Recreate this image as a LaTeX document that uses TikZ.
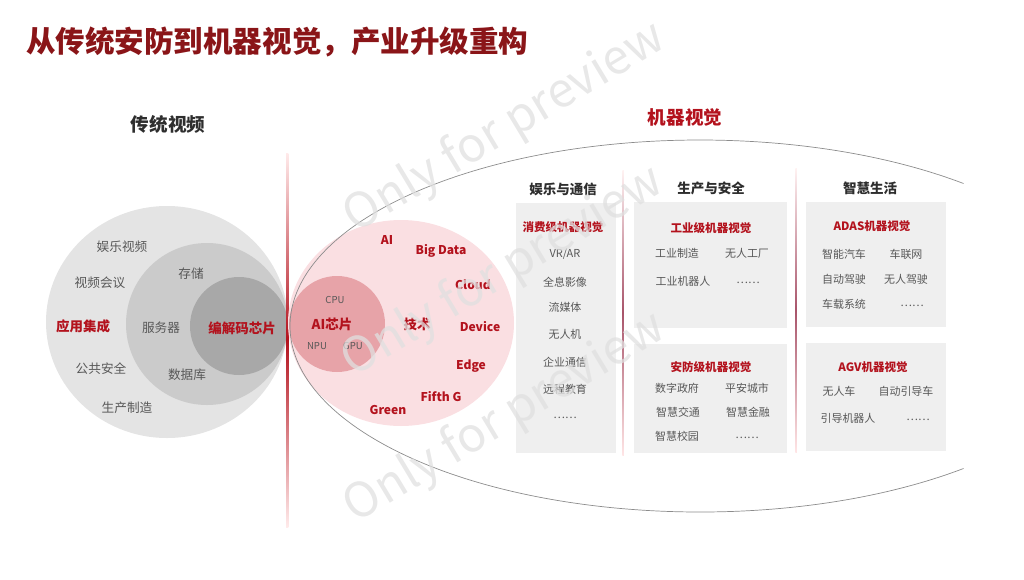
\documentclass[tikz,border=0pt]{standalone}
\usepackage{fontspec}
\setmainfont{Noto Sans CJK SC}
\usepackage{xcolor}
\usepackage{tikz}
\definecolor{tred}{HTML}{8A1518}
\definecolor{cred}{HTML}{B3121D}
\definecolor{lgray}{HTML}{E4E4E4}
\definecolor{mgray}{HTML}{CBCBCB}
\definecolor{dgray}{HTML}{A8A8A8}
\definecolor{pinkbg}{HTML}{FADFE2}
\definecolor{chipred}{HTML}{E7A3A8}
\definecolor{boxgray}{HTML}{EFEFEF}
\definecolor{txtgray}{HTML}{585858}
\definecolor{headgray}{HTML}{2E2E2E}
\definecolor{divred}{HTML}{A8546A}
\tikzstyle{title} = [font=\fontsize{21}{24}\selectfont\bfseries, text=tred, anchor=west, inner sep=0pt]
\tikzstyle{head} = [font=\fontsize{13.2}{15}\selectfont\bfseries, inner sep=0pt]
\tikzstyle{lbl} = [font=\fontsize{9}{10}\selectfont, text=txtgray, inner sep=0pt]
\tikzstyle{redlbl} = [font=\fontsize{9.6}{11}\selectfont\bfseries, text=cred, inner sep=0pt]
\tikzstyle{tech} = [font=\fontsize{8.6}{10}\selectfont\bfseries, text=cred, inner sep=0pt]
\tikzstyle{chip} = [font=\fontsize{6.8}{8}\selectfont, text=txtgray, inner sep=0pt]
\tikzstyle{colhead} = [font=\fontsize{9.6}{11}\selectfont\bfseries, text=headgray, inner sep=0pt]
\tikzstyle{boxhead} = [font=\fontsize{8.2}{10}\selectfont\bfseries, text=cred, inner sep=0pt]
\tikzstyle{item} = [font=\fontsize{7.8}{9}\selectfont, text=txtgray, inner sep=0pt]
\tikzstyle{greybox} = [fill=boxgray, draw=none]
\tikzstyle{watermark} = [font=\fontsize{34}{36}\selectfont, text=black!12, text opacity=0.75, rotate=31, inner sep=0pt]

\begin{document}
\begin{tikzpicture}[x=0.025cm, y=-0.025cm]
    \useasboundingbox (0, 0) rectangle (1024, 579);
    % title
    \node[title] at (26, 42) (ttl) {从传统安防到机器视觉，产业升级重构};
    \node[head, text=headgray] at (168, 124) (tradhead) {传统视频};
    \node[head, text=cred] at (685, 117) (mvhead) {机器视觉};
    
    % traditional video circles
    \fill[lgray] (167, 322) ellipse [x radius=121, y radius=116];
    \fill[mgray] (207, 324) circle [radius=81];
    \fill[dgray] (239, 326) circle [radius=49];
    \node[lbl] at (122, 247) (ent) {娱乐视频};
    \node[lbl] at (100, 283) (conf) {视频会议};
    \node[redlbl] at (83, 326) (integ) {应用集成};
    \node[lbl] at (101, 369) (pubsec) {公共安全};
    \node[lbl] at (127, 408) (manuf) {生产制造};
    \node[lbl] at (191, 274) (store) {存储};
    \node[lbl] at (161, 328) (server) {服务器};
    \node[lbl] at (187, 375) (dbase) {数据库};
    \node[redlbl] at (242, 328) (codec) {编解码芯片};
    
    % divider
    \shade[top color=red!8, bottom color=red!8, middle color=cred] (286, 153) rectangle (288.4, 527);
    
    % machine vision ellipse
    \coordinate (mvc) at (700, 326);
    \fill[pinkbg] (401, 323) ellipse [x radius=113, y radius=103];
    \fill[chipred] (337, 324) circle [radius=48];
    \draw[black!45, line width=0.5pt] (mvc) ++(50:410 and 186) arc [start angle=50, end angle=310, x radius=410, y radius=186];
    
    % technology
    \node[chip] at (335, 300) (cpu) {CPU};
    \node[redlbl] at (332, 324) (aichip) {AI芯片};
    \node[chip] at (317, 346) (npu) {NPU};
    \node[chip] at (353, 346) (gpu) {GPU};
    \node[redlbl] at (417, 324) (techn) {技术};
    \node[tech] at (387, 240) (ai) {AI};
    \node[tech] at (441, 251) (bigdata) {Big Data};
    \node[tech] at (473, 285) (cloud) {Cloud};
    \node[tech] at (480, 327) (device) {Device};
    \node[tech] at (471, 366) (edge) {Edge};
    \node[tech] at (441, 397) (fifthg) {Fifth G};
    \node[tech] at (388, 410) (green) {Green};
    
    % columns
    \shade[top color=red!5, bottom color=red!10, middle color=divred] (622.4, 170) rectangle (623.8, 455);
    \shade[top color=red!5, bottom color=red!10, middle color=divred] (795.4, 168) rectangle (796.8, 452);
    \node[colhead] at (563, 189) (colent) {娱乐与通信};
    \node[colhead] at (711, 188) (colprod) {生产与安全};
    \node[colhead] at (870, 188) (collife) {智慧生活};
    \fill[greybox] (516, 203) rectangle (616, 453);
    \fill[greybox] (634, 202) rectangle (787, 328);
    \fill[greybox] (634, 344) rectangle (787, 453);
    \fill[greybox] (806, 202) rectangle (946, 327);
    \fill[greybox] (806, 343) rectangle (946, 451);
    
    % consumer
    \node[boxhead] at (563, 227) (consumer) {消费级机器视觉};
    \node[item] at (565, 254) (vrar) {VR/AR};
    \node[item] at (565, 282) (holo) {全息影像};
    \node[item] at (565, 307) (stream) {流媒体};
    \node[item] at (565, 334) (drone) {无人机};
    \node[item] at (565, 362) (bizcom) {企业通信};
    \node[item] at (565, 389) (remedu) {远程教育};
    \node[item] at (565, 418) (etc1) {……};
    
    % industrial
    \node[boxhead] at (711, 228) (indus) {工业级机器视觉};
    \node[item] at (677, 253) (indmfg) {工业制造};
    \node[item] at (747, 253) (nofac) {无人工厂};
    \node[item] at (683, 281) (indrobot) {工业机器人};
    \node[item] at (748, 283) (etc2) {……};
    % security
    \node[boxhead] at (711, 367) (secur) {安防级机器视觉};
    \node[item] at (677, 388) (digov) {数字政府};
    \node[item] at (747, 388) (safecity) {平安城市};
    \node[item] at (678, 412) (smtraf) {智慧交通};
    \node[item] at (748, 412) (smfin) {智慧金融};
    \node[item] at (677, 436) (smcamp) {智慧校园};
    \node[item] at (747, 438) (etc3) {……};
    
    % ADAS
    \node[boxhead] at (872, 226) (adas) {ADAS机器视觉};
    \node[item] at (844, 254) (smcar) {智能汽车};
    \node[item] at (906, 254) (iov) {车联网};
    \node[item] at (844, 279) (autodrv) {自动驾驶};
    \node[item] at (906, 279) (nodrv) {无人驾驶};
    \node[item] at (844, 304) (carsys) {车载系统};
    \node[item] at (912, 306) (etc4) {……};
    % AGV
    \node[boxhead] at (873, 367) (agv) {AGV机器视觉};
    \node[item] at (839, 391) (nocar) {无人车};
    \node[item] at (906, 391) (autoguide) {自动引导车};
    \node[item] at (848, 418) (guiderobot) {引导机器人};
    \node[item] at (918, 420) (etc5) {……};
    
    % watermark
    \node[watermark] at (505, 128) (wm1) {Only for preview};
    \node[watermark] at (503, 272) (wm2) {Only for preview};
    \node[watermark] at (505, 418) (wm3) {Only for preview};
\end{tikzpicture}
\end{document}
